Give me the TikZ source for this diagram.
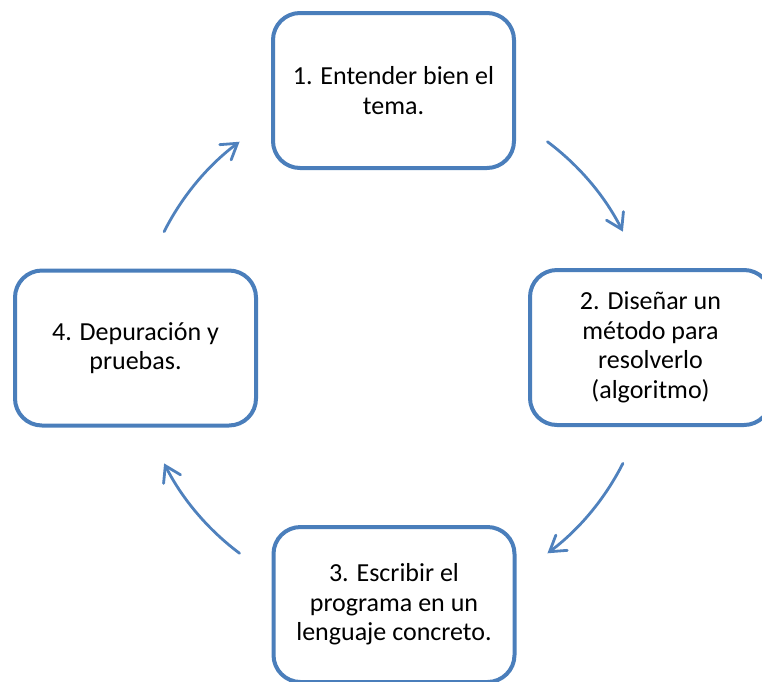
\documentclass[tikz,border=0pt]{standalone}
\usepackage{fontspec}
\setmainfont{Carlito}
\usetikzlibrary{arrows.meta}
\definecolor{boxblue}{HTML}{4A7EBB}
\definecolor{arrblue}{HTML}{4F81BD}
\tikzset{
  stepbox/.style={draw=boxblue, line width=4pt, rounded corners=27pt, fill=white,
    minimum width=241pt, minimum height=155pt, inner sep=0pt, align=center,
    font=\fontsize{26pt}{29.5pt}\selectfont, text=black},
  cyclearrow/.style={draw=arrblue, line width=2.8pt, line cap=round,
    -{Straight Barb[length=15pt,width=19pt,line cap=round]}}
}
\begin{document}
\begin{tikzpicture}[x=1pt,y=1pt]
\useasboundingbox (0,0) rectangle (762,-681);
\node[stepbox] (s1) at (393.5,-90.5) {1. Entender bien el\\tema.};
\node[stepbox] (s2) at (650.5,-347.5) {2. Diseñar un\\método para\\resolverlo\\(algoritmo)};
\node[stepbox] (s3) at (394,-604.5) {3. Escribir el\\programa en un\\lenguaje concreto.};
\node[stepbox] (s4) at (135.5,-348) {4. Depuración y\\pruebas.};
\coordinate (c) at (393.5,-347.5);
\draw[cyclearrow] (c) ++(53.2:257) arc[start angle=53.2, end angle=26.8, radius=257];
\draw[cyclearrow] (c) ++(-26.8:257) arc[start angle=-26.8, end angle=-53.2, radius=257];
\draw[cyclearrow] (c) ++(-126.8:257) arc[start angle=-126.8, end angle=-153.2, radius=257];
\draw[cyclearrow] (c) ++(153.2:257) arc[start angle=153.2, end angle=126.8, radius=257];
\end{tikzpicture}
\end{document}
